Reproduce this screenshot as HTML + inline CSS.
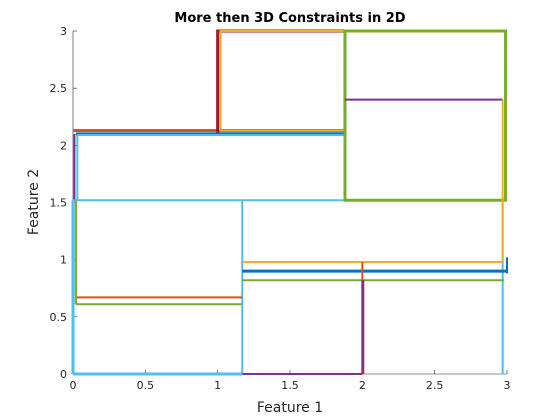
<!DOCTYPE html>
<html><head><meta charset="utf-8"><style>
body{margin:0;background:#fff;}
svg{display:block;font-family:"DejaVu Sans","Liberation Sans",sans-serif;}
</style></head><body>
<svg id="chart" width="560" height="420" viewBox="0 0 560 420">
<rect width="560" height="420" fill="#fff"/>
<g id="axes"></g>
<g id="marks"></g>
<text x="290" y="22" text-anchor="middle" font-size="13" font-weight="bold" fill="#000">More then 3D Constraints in 2D</text>
<text x="290" y="412" text-anchor="middle" font-size="14" fill="#262626">Feature 1</text>
<text transform="translate(38,202) rotate(-90)" text-anchor="middle" font-size="14" fill="#262626">Feature 2</text>
</svg>
<script>
const xTicks=[0,0.5,1,1.5,2,2.5,3];
const xTickLabels=["0","0.5","1","1.5","2","2.5","3"];
const yTicks=[0,0.5,1,1.5,2,2.5,3];
const yTickLabels=["0","0.5","1","1.5","2","2.5","3"];
const segColors=["#77AC30","#D95319","#A2142F","#EDB120","#0072BD","#7E2F8E","#4DBEEE","#4DBEEE","#4DBEEE","#4DBEEE","#4DBEEE","#4DBEEE","#4DBEEE","#77AC30","#7E2F8E","#EDB120","#EDB120","#0072BD","#77AC30","#D95319","#7E2F8E","#A2142F","#7E2F8E","#D95319","#77AC30","#77AC30","#0072BD","#4DBEEE"];
const segX1=[0.02,0.0,1.0,1.02,0.02,0.01,0.03,0.03,0.0,0.0,0.0,1.17,2.97,1.88,1.88,2.97,1.17,1.17,1.17,2.0,2.0,2.01,1.17,0.02,0.02,0.02,3.0,0.0];
const segY1=[0.61,2.13,2.1,2.13,2.1,1.52,2.09,1.52,1.52,0,0,0,0,1.52,2.4,0.98,0.98,0.9,0.82,0.82,0,0,0,0.67,0.61,0.61,0.88,0];
const segX2=[0.02,1.88,1.88,1.88,1.88,0.01,1.88,0.03,2.97,1.17,0,1.17,2.97,2.99,2.97,2.97,2.97,3.0,2.98,2.0,2.0,2.01,2.0,1.17,1.17,0.02,3.0,1.17];
const segY2=[1.52,2.13,3,3,2.1,2.1,2.09,2.09,1.52,0,1.52,1.52,1.52,3,2.4,2.4,0.98,0.9,0.82,0.98,0.82,0.82,0,0.67,0.61,1.52,1.02,0];
const segWidths=[2,3,3,2,3,2,2,2,2,3,3,2,2,3,2,2,2,3,2,2,2,1,2,2,2,2,2,2];
const segRect=[0,0,1,1,0,0,0,0,0,0,0,0,0,1,0,0,0,0,0,0,0,0,0,0,0,0,0,0];
const X0=73,X1=507,Y0=374,Y1=31;
const sx=v=>X0+v/3*(X1-X0), sy=v=>Y0-v/3*(Y0-Y1);
const NS="http://www.w3.org/2000/svg";
const axes=document.getElementById('axes'), marks=document.getElementById('marks');
function mk(tag,attrs,parent){const e=document.createElementNS(NS,tag);for(const k in attrs)e.setAttribute(k,attrs[k]);parent.appendChild(e);return e;}
let la=mk('line',{x1:X0,x2:X0,y1:Y0,y2:Y1,stroke:'#262626','stroke-width':0.6},axes);


let lb=mk('line',{x1:X0,x2:X1,y1:Y0,y2:Y0,stroke:'#262626','stroke-width':0.6},axes);


xTicks.forEach((t,i)=>{
 const l=mk('line',{x1:sx(t),x2:sx(t),y1:Y0,y2:Y0-4,stroke:'#262626','stroke-width':0.6},axes);
 
 
 const tx=mk('text',{x:sx(t),y:Y0+15,'text-anchor':'middle','font-size':11,fill:'#262626'},axes);
 tx.textContent=xTickLabels[i];
 
 
});
yTicks.forEach((t,i)=>{
 const l=mk('line',{x1:X0,x2:X0+4,y1:sy(t),y2:sy(t),stroke:'#262626','stroke-width':0.6},axes);
 
 
 const tx=mk('text',{x:X0-6,y:sy(t)+4,'text-anchor':'end','font-size':11,fill:'#262626'},axes);
 tx.textContent=yTickLabels[i];
 
 
});
segColors.forEach((c,i)=>{
 let e;
 if(segRect[i]){
  const a=sx(segX1[i]),b=sx(segX2[i]),p=sy(segY2[i]),q=sy(segY1[i]);
  e=mk('rect',{x:a,y:p,width:b-a,height:q-p,fill:'none',stroke:c,'stroke-width':segWidths[i]},marks);
 } else {
  e=mk('line',{x1:sx(segX1[i]),y1:sy(segY1[i]),x2:sx(segX2[i]),y2:sy(segY2[i]),stroke:c,'stroke-width':segWidths[i]},marks);
 }
 
 
});
</script>
</body></html>
